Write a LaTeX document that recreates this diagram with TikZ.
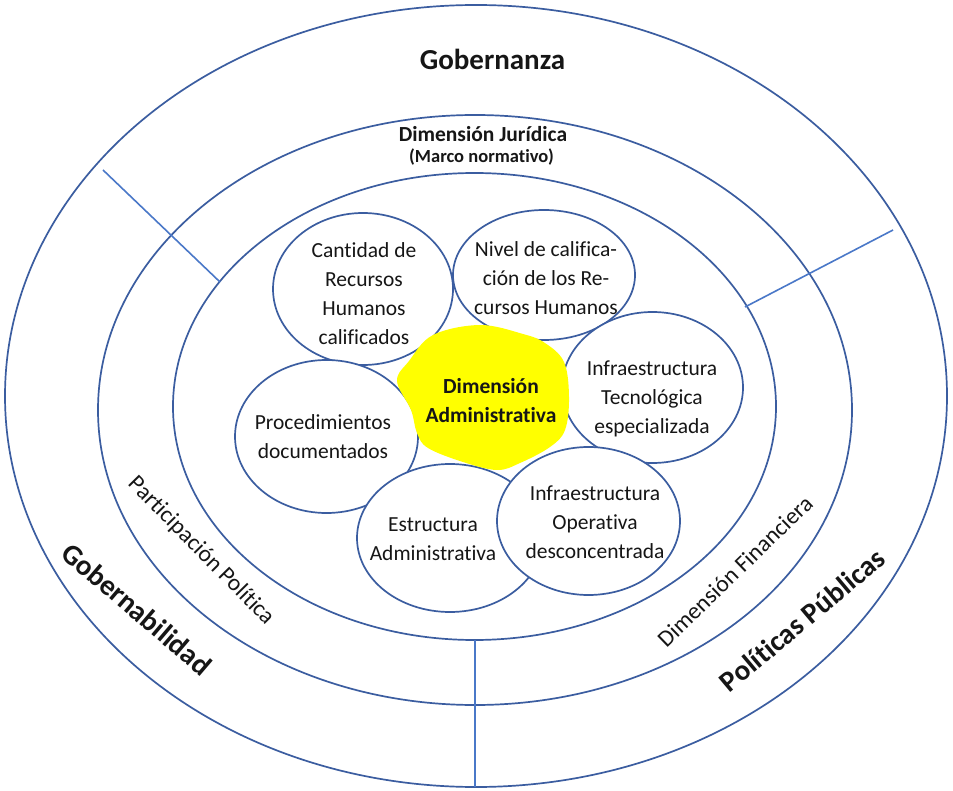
\documentclass[tikz,border=0pt]{standalone}
\usepackage{fontspec}
\setmainfont{Carlito}[Ligatures=NoCommon]
\usetikzlibrary{shapes.geometric}
\definecolor{ring}{HTML}{3B5DA0}
\definecolor{spoke}{HTML}{4A78C8}
\definecolor{ink}{HTML}{161616}
\definecolor{core}{HTML}{FFFF00}

\begin{document}
\begin{tikzpicture}[x=1pt,y=-1pt,
  ringline/.style={draw=ring, line width=1.7pt},
  spokeline/.style={draw=spoke, line width=1.6pt},
  bubble/.style={ellipse, draw=ring, line width=1.7pt, fill=white, inner sep=0pt, outer sep=0pt},
  bubbletext/.style={align=center, text=ink, inner sep=0pt, font=\fontsize{21.5}{29}\selectfont},
  bigtitle/.style={text=ink, inner sep=0pt, font=\bfseries\fontsize{29}{34}\selectfont},
  midtitle/.style={text=ink, inner sep=0pt, font=\bfseries\fontsize{21.5}{26}\selectfont},
  ringtext/.style={text=ink, inner sep=0pt, font=\fontsize{23.5}{28}\selectfont},
]
\useasboundingbox (0,0) rectangle (953,791);
\fill[white] (0,0) rectangle (953,791);

% concentric rings
\draw[ringline] (476,396) ellipse [x radius=471, y radius=391];
\draw[ringline] (475,410) ellipse [x radius=377, y radius=295];
\draw[ringline] (474.5,406.5) ellipse [x radius=301.5, y radius=233.5];

% dividing strokes between the outer sectors
\coordinate (nwA) at (103,170);
\coordinate (nwB) at (220,282);
\coordinate (neA) at (745,307);
\coordinate (neB) at (893,230);
\coordinate (sA) at (475,640);
\coordinate (sB) at (475,787);
\draw[spokeline] (nwA) -- (nwB);
\draw[spokeline] (neA) -- (neB);
\draw[spokeline] (sA) -- (sB);

% component bubbles
\node[bubble, minimum width=180, minimum height=152] (cant) at (363,289) {};
\node[bubble, minimum width=182, minimum height=130] (nivel) at (544,275) {};
\node[bubble, minimum width=183, minimum height=153] (proc) at (326.5,436.5) {};
\node[bubble, minimum width=186, minimum height=148] (estr) at (450,538) {};
\node[bubble, minimum width=181, minimum height=151] (itec) at (652.5,387.5) {};
\node[bubble, minimum width=183, minimum height=148] (iop) at (588.5,521) {};

% central core
\fill[core] plot[smooth cycle, tension=0.6] coordinates {
  (433,335) (480,325) (523,334) (545,343) (564,362) (569,397) (565,430)
  (550,447) (520,463) (497,470) (463,462) (428,448) (417,433) (411,410)
  (397,381) (409,361)};

% bubble labels
\node[bubbletext] (tcant) at (364,294) {Cantidad de\\Recursos\\Humanos\\calificados};
\node[bubbletext] (tnivel) at (546,278) {Nivel de califica-\\ción de los Re-\\cursos Humanos};
\node[bubbletext] (tproc) at (323,437) {Procedimientos\\documentados};
\node[bubbletext] (testr) at (433,539) {Estructura\\Administrativa};
\node[bubbletext] (titec) at (652,399) {Infraestructura\\Tecnológica\\especializada};
\node[bubbletext] (tiop) at (595,522) {Infraestructura\\Operativa\\desconcentrada};
\node[bubbletext, font=\bfseries\fontsize{21.5}{29}\selectfont] (tcore) at (491,401) {Dimensión\\Administrativa};

% ring titles
\node[bigtitle, anchor=base] (gob) at (492.5,70) {Gobernanza};
\node[midtitle, anchor=base] (jur) at (483,142) {Dimensión Jurídica};
\node[text=ink, inner sep=0pt, anchor=base, font=\bfseries\fontsize{18.5}{22}\selectfont] (marco) at (481.5,163) {(Marco normativo)};

\node[bigtitle, rotate=-40.5] (gbl) at (137,609) {Gobernabilidad};
\node[ringtext, rotate=-45.5] (part) at (201,551) {Participación Política};
\node[ringtext, rotate=44] (fin) at (735,571) {Dimensión Financiera};
\node[bigtitle, rotate=40] (pol) at (802,620) {Políticas Públicas};
\end{tikzpicture}
\end{document}
